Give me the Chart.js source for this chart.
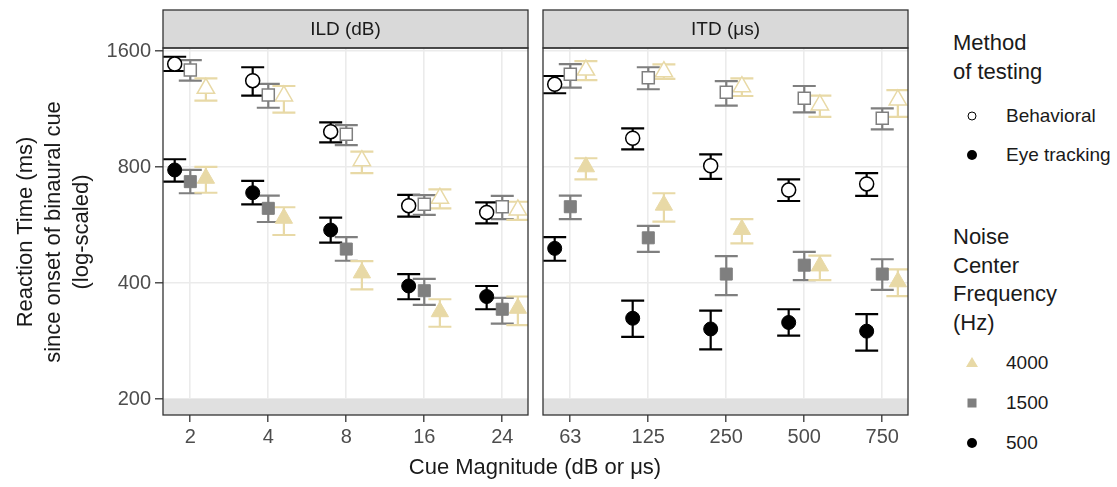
<!DOCTYPE html>
<html>
<head>
<meta charset="utf-8">
<title>Reaction time by cue magnitude</title>
<script src="https://cdn.jsdelivr.net/npm/chart.js@4/dist/chart.umd.min.js"></script>
<style>
  body { margin: 0; background: #fff; font-family: "Liberation Sans", Arial, sans-serif; color: #1a1a1a; }
  #wrap { position: relative; width: 1117px; height: 487px; overflow: hidden; }
  canvas { position: absolute; top: 0; }
  #ildChart { left: 0; }
  #itdChart { left: 536px; }
  .ytitle { position: absolute; left: 53px; top: 232px; width: 340px; transform: translate(-50%, -50%) rotate(-90deg);
            text-align: center; font-size: 22px; line-height: 28px; }
  .xtitle { position: absolute; left: 535px; top: 467px; transform: translate(-50%, -50%); font-size: 22px; white-space: nowrap; }
  .lg-title { position: absolute; left: 953px; font-size: 22px; line-height: 28.5px; }
  .lg-item { position: absolute; left: 1006px; font-size: 19px; transform: translateY(-50%); white-space: nowrap; }
  .sym { position: absolute; transform: translate(-50%, -50%); box-sizing: border-box; }
</style>
</head>
<body>
<div id="wrap">
  <canvas id="ildChart" width="535" height="455"></canvas>
  <canvas id="itdChart" width="376" height="455"></canvas>

  <div class="ytitle">Reaction Time (ms)<br>since onset of binaural cue<br>(log-scaled)</div>
  <div class="xtitle">Cue Magnitude (dB or μs)</div>

  <div class="lg-title" style="top:29px">Method<br>of testing</div>
  <span class="sym" style="left:972px;top:116px;width:9px;height:9px;border:1.3px solid #000;border-radius:50%"></span>
  <div class="lg-item" style="top:116px">Behavioral</div>
  <span class="sym" style="left:972px;top:155px;width:10px;height:10px;background:#000;border-radius:50%"></span>
  <div class="lg-item" style="top:155px">Eye tracking</div>

  <div class="lg-title" style="top:223px">Noise<br>Center<br>Frequency<br>(Hz)</div>
  <span class="sym" style="left:972px;top:362px;width:0;height:0;border-left:6px solid transparent;border-right:6px solid transparent;border-bottom:10px solid #e8d9a6"></span>
  <div class="lg-item" style="top:363px">4000</div>
  <span class="sym" style="left:972px;top:403px;width:9px;height:9px;background:#7f7f7f"></span>
  <div class="lg-item" style="top:403px">1500</div>
  <span class="sym" style="left:972px;top:443px;width:10px;height:10px;background:#000;border-radius:50%"></span>
  <div class="lg-item" style="top:443px">500</div>
</div>

<script>
// categories of the two facets
const ildLabels = ['2', '4', '8', '16', '24'];
const itdLabels = ['63', '125', '250', '500', '750'];
const yTicks = [200, 400, 800, 1600];

// each entry: [mean, lower, upper] reaction time in ms
const ildBehav500  = [[1480, 1420, 1546], [1340, 1225, 1452], [988, 927, 1045], [635, 595, 677], [610, 571, 648]];
const ildBehav1500 = [[1428, 1340, 1516], [1230, 1140, 1314], [973, 912, 1028], [640, 601, 676], [631, 586, 673]];
const ildBehav4000 = [[1280, 1189, 1359], [1223, 1107, 1298], [831, 771, 877], [664, 625, 700], [619, 583, 650]];
const ildEye500    = [[786, 733, 838], [686, 640, 736], [549, 509, 591], [393, 363, 422], [369, 342, 393]];
const ildEye1500   = [[733, 684, 786], [625, 576, 674], [490, 457, 526], [382, 351, 410], [342, 314, 366]];
const ildEye4000   = [[748, 686, 801], [589, 533, 629], [425, 385, 456], [337, 308, 363], [344, 311, 369]];

const itdBehav500  = [[1311, 1243, 1378], [950, 889, 1008], [806, 745, 863], [697, 653, 743], [723, 673, 771]];
const itdBehav1500 = [[1392, 1285, 1480], [1364, 1273, 1452], [1250, 1154, 1337], [1206, 1109, 1298], [1070, 1002, 1136]];
const itdBehav4000 = [[1428, 1345, 1507], [1414, 1354, 1478], [1293, 1223, 1359], [1159, 1080, 1225], [1194, 1080, 1267]];
const itdEye500    = [[492, 457, 526], [324, 290, 360], [304, 269, 339], [316, 292, 342], [300, 267, 332]];
const itdEye1500   = [[631, 586, 674], [524, 482, 563], [422, 372, 470], [445, 407, 482], [422, 384, 461]];
const itdEye4000   = [[801, 743, 843], [637, 577, 684], [551, 507, 586], [443, 407, 471], [403, 370, 434]];

const freqStyle = {
  500:  { color: '#000000', shape: 'circle',   radius: 7,   offset: -0.2 },
  1500: { color: '#7f7f7f', shape: 'rect',     radius: 8.5, offset: 0 },
  4000: { color: '#e8d9a6', shape: 'triangle', radius: 10,  offset: 0.2 }
};

function makeDataset(rows, freq, open) {
  const s = freqStyle[freq];
  return {
    label: (open ? 'Behavioral ' : 'Eye tracking ') + freq,
    data: rows.map((r, i) => ({ x: i + s.offset, y: r[0], lo: r[1], hi: r[2] })),
    pointStyle: s.shape,
    pointRadius: s.radius,
    pointHoverRadius: s.radius,
    borderColor: s.color,
    backgroundColor: open ? '#ffffff' : s.color,
    pointBorderWidth: open ? 1.5 : 1,
    showLine: false
  };
}

// error bars, grey lower band, strip and panel border
const facetPlugin = {
  id: 'facet',
  beforeDatasetsDraw(chart) {
    const ctx = chart.ctx, area = chart.chartArea, y = chart.scales.y;
    ctx.save();
    ctx.fillStyle = '#e0e0e0';
    const y200 = y.getPixelForValue(200);
    ctx.fillRect(area.left, y200, area.right - area.left, area.bottom - y200);

    ctx.beginPath();
    ctx.rect(area.left, area.top, area.right - area.left, area.bottom - area.top);
    ctx.clip();
    ctx.lineWidth = 2.2;
    chart.data.datasets.forEach((ds, d) => {
      const meta = chart.getDatasetMeta(d);
      ctx.strokeStyle = ds.borderColor;
      ds.data.forEach((p, i) => {
        const px = meta.data[i].x;
        const top = y.getPixelForValue(p.hi), bot = y.getPixelForValue(p.lo);
        ctx.beginPath();
        ctx.moveTo(px, top); ctx.lineTo(px, bot);
        ctx.moveTo(px - 11.5, top); ctx.lineTo(px + 11.5, top);
        ctx.moveTo(px - 11.5, bot); ctx.lineTo(px + 11.5, bot);
        ctx.stroke();
      });
    });
    ctx.restore();
  },
  afterDraw(chart, args, opts) {
    const ctx = chart.ctx, area = chart.chartArea;
    ctx.save();
    ctx.fillStyle = '#d9d9d9';
    ctx.fillRect(area.left, 10, area.right - area.left, area.top - 10);
    ctx.strokeStyle = '#333333';
    ctx.lineWidth = 1.3;
    ctx.strokeRect(area.left, 10, area.right - area.left, area.top - 10);
    ctx.strokeRect(area.left, area.top, area.right - area.left, area.bottom - area.top);
    ctx.fillStyle = '#1a1a1a';
    ctx.font = '19px "Liberation Sans", Arial, sans-serif';
    ctx.textAlign = 'center';
    ctx.textBaseline = 'middle';
    ctx.fillText(opts.strip, (area.left + area.right) / 2, (10 + area.top) / 2 + 1);
    ctx.restore();
  }
};

function makePanel(id, labels, rows, strip, yWidth, padRight) {
  const datasets = [
    makeDataset(rows[0], 500, true),
    makeDataset(rows[1], 1500, true),
    makeDataset(rows[2], 4000, true),
    makeDataset(rows[3], 500, false),
    makeDataset(rows[4], 1500, false),
    makeDataset(rows[5], 4000, false)
  ];
  const showY = yWidth > 20;
  return new Chart(document.getElementById(id), {
    type: 'scatter',
    data: { datasets: datasets },
    plugins: [facetPlugin],
    options: {
      responsive: false,
      animation: false,
      layout: { autoPadding: false, padding: { top: 48, right: padRight, bottom: 0, left: 0 } },
      plugins: {
        legend: { display: false },
        tooltip: { enabled: false },
        facet: { strip: strip }
      },
      scales: {
        x: {
          type: 'linear',
          min: -0.35,
          max: 4.33,
          afterBuildTicks: (scale) => { scale.ticks = labels.map((l, i) => ({ value: i })); },
          afterFit: (scale) => { scale.height = 40; scale.paddingLeft = 0; scale.paddingRight = 0; },
          border: { display: false },
          grid: { color: '#ebebeb', lineWidth: 1.6, tickColor: '#333333', tickLength: 7, tickWidth: 1.3 },
          ticks: {
            color: '#4d4d4d',
            font: { size: 20, family: '"Liberation Sans", Arial, sans-serif' },
            padding: 3,
            maxRotation: 0,
            callback: (v) => labels[Math.round(v)]
          }
        },
        y: {
          type: 'logarithmic',
          min: 181.8,
          max: 1629,
          afterBuildTicks: (scale) => { scale.ticks = yTicks.map(v => ({ value: v })); },
          afterFit: (scale) => { scale.width = yWidth; scale.paddingTop = 0; scale.paddingBottom = 0; },
          border: { display: false },
          grid: { color: '#ebebeb', lineWidth: 1.6, tickColor: '#333333', tickLength: showY ? 8 : 0, tickWidth: 1.3, drawTicks: showY },
          ticks: {
            display: showY,
            color: '#4d4d4d',
            font: { size: 20, family: '"Liberation Sans", Arial, sans-serif' },
            padding: 4,
            callback: (v) => String(v)
          }
        }
      }
    }
  });
}

makePanel('ildChart', ildLabels,
  [ildBehav500, ildBehav1500, ildBehav4000, ildEye500, ildEye1500, ildEye4000], 'ILD (dB)', 163, 7);
makePanel('itdChart', itdLabels,
  [itdBehav500, itdBehav1500, itdBehav4000, itdEye500, itdEye1500, itdEye4000], 'ITD (μs)', 7, 4);
</script>
</body>
</html>
